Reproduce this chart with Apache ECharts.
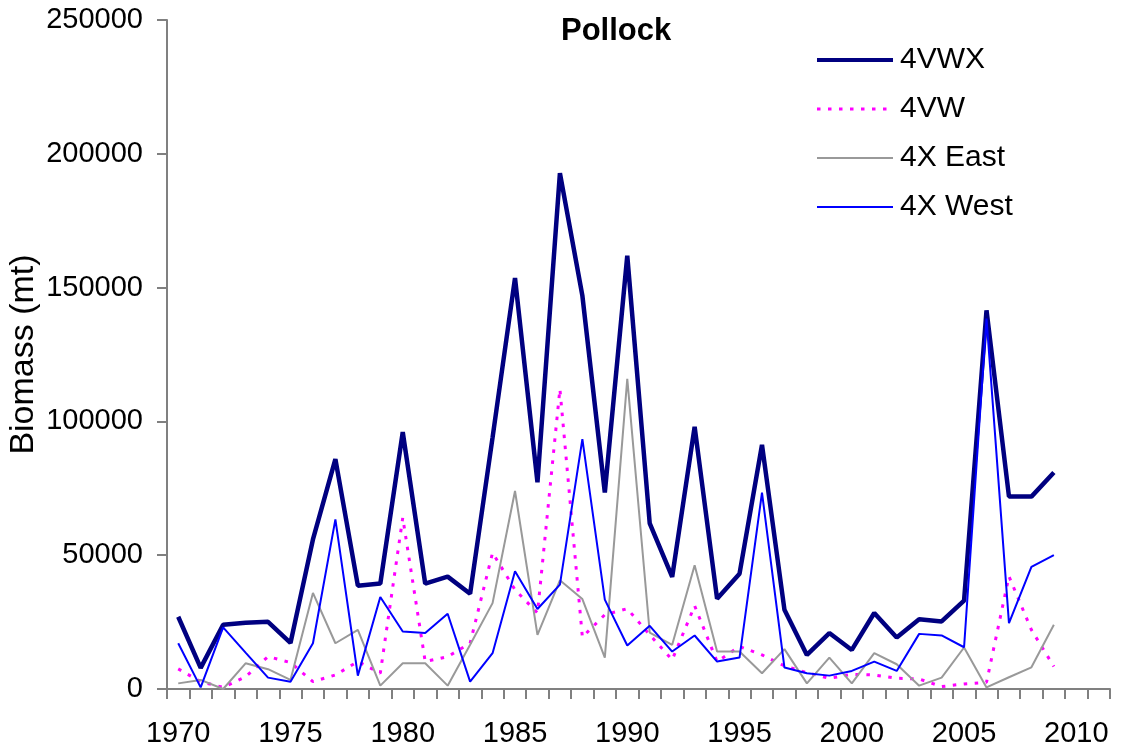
<!DOCTYPE html>
<html>
<head>
<meta charset="utf-8">
<script src="https://cdn.jsdelivr.net/npm/echarts@6/dist/echarts.min.js"></script>
<style>
  html, body { margin: 0; padding: 0; background: #fff; }
  #chart { width: 1126px; height: 753px; }
</style>
</head>
<body>
<div id="chart"></div>
<script>
// categories 1970..2011 (data ends 2009)
const years = [];
for (let y = 1970; y <= 2011; y++) years.push(String(y));

const vwx = [27000, 7900, 24000, 24800, 25100, 17200, 55900, 85900, 38600, 39400,
  96000, 39400, 42000, 35600, 94000, 153600, 77250, 192750, 147000, 73400,
  161900, 61900, 41900, 98000, 33750, 43100, 91250, 29600, 12750, 20900,
  14600, 28400, 19250, 26100, 25250, 33000, 141500, 71900, 71900, 80900];

const vw = [7500, 2750, 600, 4600, 12100, 9900, 2750, 5250, 10250, 5900,
  64000, 10250, 12100, 17100, 50900, 37100, 28400, 112100, 19400, 27750,
  30000, 20250, 10900, 31100, 10250, 15900, 12750, 8600, 6100, 4000,
  5500, 5250, 4000, 3750, 900, 1900, 2500, 42100, 22100, 8400];

const xEast = [2100, 3400, 0, 9600, 7400, 3400, 35900, 17100, 22100, 1250,
  9600, 9600, 1250, 16500, 32100, 74000, 20250, 40600, 33600, 11750,
  115900, 21100, 16500, 46250, 14000, 14000, 5900, 14900, 2100, 11750,
  2100, 13400, 9250, 1250, 4250, 15500, 600, 4400, 8100, 24000];

const xWest = [17100, 600, 23000, 13600, 4250, 2750, 17100, 63400, 5000, 34400,
  21500, 20900, 28100, 2750, 13400, 44000, 29900, 39000, 93400, 33400,
  16250, 23600, 14000, 20000, 10250, 11750, 73400, 8000, 5900, 5000,
  6750, 10250, 6750, 20600, 20000, 15600, 138400, 24600, 45600, 50000];

const font = 'Liberation Sans, Arial, sans-serif';

let chart = echarts.init(document.getElementById('chart'));

let option = {
  backgroundColor: '#ffffff',
  animation: false,
  title: {
    text: 'Pollock',
    left: 561,
    top: 16,
    padding: 0,
    textStyle: { fontFamily: font, fontSize: 31, fontWeight: 'bold', color: '#000' }
  },
  legend: {
    orient: 'vertical',
    left: 815,
    top: 45,
    padding: 0,
    itemWidth: 76,
    itemHeight: 14,
    itemGap: 19,
    itemStyle: { opacity: 0 },
    textStyle: { fontFamily: font, fontSize: 30, color: '#000', padding: [0, 0, 0, 2] },
    data: [
      { name: '4VWX', lineStyle: { width: 4 } },
      { name: '4VW', lineStyle: { width: 3 } },
      { name: '4X East', lineStyle: { width: 2 } },
      { name: '4X West', lineStyle: { width: 2 } }
    ]
  },
  grid: { left: 167, right: 16, top: 20, bottom: 64, outerBoundsMode: 'none', containLabel: false },
  xAxis: {
    type: 'category',
    data: years,
    boundaryGap: true,
    axisLine: { lineStyle: { color: '#808080', width: 2 } },
    axisTick: { show: true, interval: 0, length: 10, lineStyle: { color: '#808080', width: 2 } },
    axisLabel: { interval: 4, margin: 30, fontFamily: font, fontSize: 29, color: '#000' }
  },
  yAxis: {
    type: 'value',
    min: 0,
    max: 250000,
    interval: 50000,
    name: 'Biomass (mt)',
    nameLocation: 'middle',
    nameGap: 126,
    nameMoveOverlap: false,
    nameTextStyle: { fontFamily: font, fontSize: 34, color: '#000' },
    splitLine: { show: false },
    axisLine: { show: true, lineStyle: { color: '#808080', width: 2 } },
    axisTick: { show: true, length: 10, lineStyle: { color: '#808080', width: 2 } },
    axisLabel: { margin: 24, fontFamily: font, fontSize: 29, color: '#000', formatter: v => String(v) }
  },
  series: [
    {
      name: '4VWX', type: 'line', symbol: 'none', data: vwx,
      lineStyle: { color: '#000080', width: 4.5 }, itemStyle: { color: '#000080' }
    },
    {
      name: '4VW', type: 'line', symbol: 'none', data: vw,
      lineStyle: { color: '#ff00ff', width: 3, type: [3.5, 7.5] }, itemStyle: { color: '#ff00ff' }
    },
    {
      name: '4X East', type: 'line', symbol: 'none', data: xEast,
      lineStyle: { color: '#999999', width: 2 }, itemStyle: { color: '#999999' }
    },
    {
      name: '4X West', type: 'line', symbol: 'none', data: xWest,
      lineStyle: { color: '#0000ff', width: 2 }, itemStyle: { color: '#0000ff' }
    }
  ]
};

option && chart.setOption(option);
</script>
</body>
</html>
